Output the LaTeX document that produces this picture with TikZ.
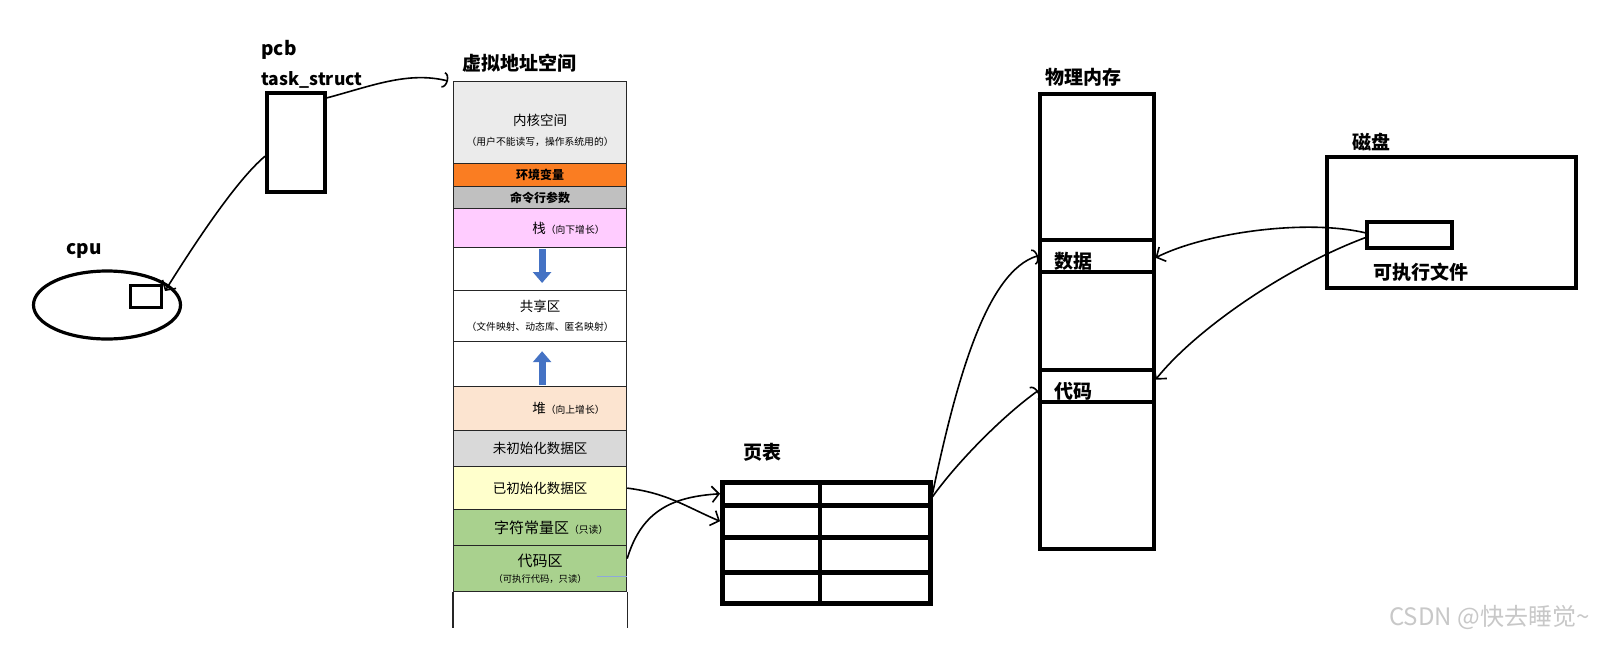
\documentclass[tikz,border=0pt]{standalone}
\usepackage{fontspec}
\setmainfont{Noto Sans CJK SC}
\usetikzlibrary{shapes.geometric, arrows.meta, positioning, calc}
\definecolor{segline}{HTML}{262626}
\definecolor{kernelgray}{HTML}{EBEBEB}
\definecolor{envorange}{HTML}{FA7D22}
\definecolor{cmdgray}{HTML}{C0C0C0}
\definecolor{stackpink}{HTML}{FFCCFF}
\definecolor{heappeach}{HTML}{FCE4D0}
\definecolor{bssgray}{HTML}{D9D9D9}
\definecolor{datayellow}{HTML}{FFFFCC}
\definecolor{codegreen}{HTML}{A9D18E}
\definecolor{growblue}{HTML}{4472C4}
\definecolor{strayblue}{HTML}{8EA9DB}
\definecolor{markgray}{HTML}{C8C8C8}
\newcommand{\subnote}[1]{{\fontsize{9.8}{12}\selectfont #1}}

\begin{document}
\begin{tikzpicture}[x=1pt, y=-1pt,
    seg/.style={rectangle, draw=segline, line width=1.2pt, minimum width=173pt, inner sep=0pt, align=center, text=black, font=\fontsize{13.5}{16}\selectfont},
    segtext/.style={inner sep=0pt, align=center, text=black, font=\fontsize{13.5}{16}\selectfont},
    title/.style={inner sep=0pt, font=\fontsize{19}{21}\selectfont\bfseries},
    thickbox/.style={rectangle, draw, line width=3.5pt, inner sep=0pt},
    ptrow/.style={rectangle, draw, line width=4.5pt, minimum width=208pt, inner sep=0pt},
    growarrow/.style={draw=growblue, line width=7pt, -{Triangle[width=18pt, length=11pt]}},
    link/.style={line width=1.6pt, -{Straight Barb[length=7pt, width=16pt]}},
    hook/.style={line width=1.6pt, -{Arc Barb[length=5pt, width=16pt]}},
]
    \fill[white] (0,0) rectangle (1597,648);

    \node[title] (vastitle) at (519,63) {虚拟地址空间};
    \node[seg, fill=kernelgray, minimum height=82pt, anchor=north west] (kernel) at (453,81) {};
    \node[segtext] (kerneltxt) at ([yshift=-8pt]kernel.center) {内核空间\\[4pt]\subnote{（用户不能读写，操作系统用的）}};
    \node[seg, fill=envorange, minimum height=23pt, below=-1.2pt of kernel, font=\fontsize{12}{14}\selectfont\bfseries] (envvar) {环境变量};
    \node[seg, fill=cmdgray, minimum height=22pt, below=-1.2pt of envvar, font=\fontsize{12}{14}\selectfont\bfseries] (cmdarg) {命令行参数};
    \node[seg, fill=stackpink, minimum height=39pt, below=-1.2pt of cmdarg] (stack) {};
    \node[segtext, anchor=west] (stacktxt) at ([xshift=-8pt]stack.center) {栈\subnote{（向下增长）}};
    \node[seg, fill=white, minimum height=43pt, below=-1.2pt of stack] (gapdown) {};
    \node[seg, fill=white, minimum height=51pt, below=-1.2pt of gapdown] (shared) {共享区\\[3pt]\subnote{（文件映射、动态库、匿名映射）}};
    \node[seg, fill=white, minimum height=45pt, below=-1.2pt of shared] (gapup) {};
    \node[seg, fill=heappeach, minimum height=44pt, below=-1.2pt of gapup] (heap) {};
    \node[segtext, anchor=west] (heaptxt) at ([xshift=-8pt]heap.center) {堆\subnote{（向上增长）}};
    \node[seg, fill=bssgray, minimum height=36pt, below=-1.2pt of heap] (bss) {未初始化数据区};
    \node[seg, fill=datayellow, minimum height=43pt, below=-1.2pt of bss] (initdata) {已初始化数据区};
    \node[seg, fill=codegreen, minimum height=36pt, below=-1.2pt of initdata] (rodata) {};
    \node[segtext, font=\fontsize{15}{17}\selectfont] (rodatatxt) at ([xshift=11pt]rodata.center) {字符常量区\subnote{（只读）}};
    \node[seg, fill=codegreen, minimum height=46pt, below=-1.2pt of rodata, font=\fontsize{15}{17}\selectfont] (code) {代码区\\[-1pt]{\fontsize{9.3}{11}\selectfont（可执行代码，只读）}};
    \draw[segline, line width=1.2pt] (code.south west) -- ++(0,36);
    \draw[segline, line width=1.2pt] (code.south east) -- ++(0,36);
    \draw[strayblue, line width=0.8pt] ([xshift=-30pt, yshift=-8pt]code.east) -- ([yshift=-8pt]code.east);
    \draw[growarrow] ([xshift=2pt, yshift=-1pt]stack.south) -- ([xshift=2pt, yshift=7pt]shared.north);
    \draw[growarrow] ([xshift=2pt, yshift=1pt]heap.north) -- ([xshift=2pt, yshift=-9pt]shared.south);

    \node[title] (pcbtitle) at (279,50) {pcb};
    \node[title, font=\fontsize{17.5}{20}\selectfont\bfseries] (tasktitle) at (312,80) {task\_struct};
    \node[thickbox, minimum width=58pt, minimum height=99pt, anchor=north west] (pcb) at (265,91) {};
    \node[title] (cputitle) at (84,251) {cpu};
    \node[ellipse, draw, line width=3.2pt, minimum width=147pt, minimum height=68pt] (cpu) at (107,305) {};
    \node[thickbox, line width=3pt, minimum width=31pt, minimum height=22pt] (reg) at (146,296) {};
    \draw[link] ([yshift=-14pt]pcb.west) .. controls +(-30,25) and +(25,-40) .. ([xshift=2pt, yshift=5pt]reg.east);
    \draw[hook] ([yshift=-7pt]pcb.north east) .. controls +(45,-12) and +(-40,-10) .. ([xshift=-5pt]kernel.north west);

    \node[title] (pttitle) at (762,452) {页表};
    \node[ptrow, minimum height=23pt, anchor=north west] (pt1) at (720,480) {};
    \node[ptrow, minimum height=32pt, below=-4.5pt of pt1] (pt2) {};
    \node[ptrow, minimum height=35pt, below=-4.5pt of pt2] (pt3) {};
    \node[ptrow, minimum height=31pt, below=-4.5pt of pt3] (pt4) {};
    \draw[line width=4.5pt] ($(pt1.north west)!0.47!(pt1.north east)$) -- ($(pt4.south west)!0.47!(pt4.south east)$);
    \draw[link] (initdata.east) .. controls +(40,5) and +(-35,-15) .. (pt2.west);
    \draw[link] ([yshift=10pt]code.east) .. controls +(15,-50) and +(-45,3) .. (pt1.west);

    \node[title] (memtitle) at (1083,77) {物理内存};
    \node[thickbox, minimum width=114pt, minimum height=455pt, anchor=north west] (phys) at (1038,92) {};
    \node[thickbox, minimum width=114pt, minimum height=32pt, anchor=north west] (dataslot) at (1038,238) {};
    \node[thickbox, minimum width=114pt, minimum height=32pt, anchor=north west] (codeslot) at (1038,368) {};
    \node[title, anchor=west] (datatxt) at ([xshift=16pt, yshift=-6pt]dataslot.west) {数据};
    \node[title, anchor=west] (codetxt) at ([xshift=16pt, yshift=-6pt]codeslot.west) {代码};
    \draw[hook] (pt1.east) .. controls +(25,-120) and +(-50,15) .. (dataslot.west);
    \draw[hook] ([yshift=-3pt]pt1.east) .. controls +(25,-35) and +(-35,25) .. ([yshift=-5pt]codeslot.west);

    \node[title] (disktitle) at (1371,142) {磁盘};
    \node[thickbox, minimum width=249pt, minimum height=131pt, anchor=north west] (disk) at (1325,155) {};
    \node[thickbox, minimum width=85pt, minimum height=26pt, anchor=north west] (exe) at (1365,220) {};
    \node[title] (exetxt) at (1421,272) {可执行文件};
    \draw[link] ([yshift=2pt]exe.west) .. controls +(-60,-14) and +(50,-25) .. ([yshift=-2pt]dataslot.east);
    \draw[link] ([yshift=-3pt]exe.west) .. controls +(-80,30) and +(40,-50) .. ([yshift=6pt]codeslot.east);

    \node[font=\fontsize{24}{27}\selectfont, text=markgray, anchor=east] (mark) at (1593,617) {CSDN @快去睡觉\textasciitilde};
\end{tikzpicture}
\end{document}
